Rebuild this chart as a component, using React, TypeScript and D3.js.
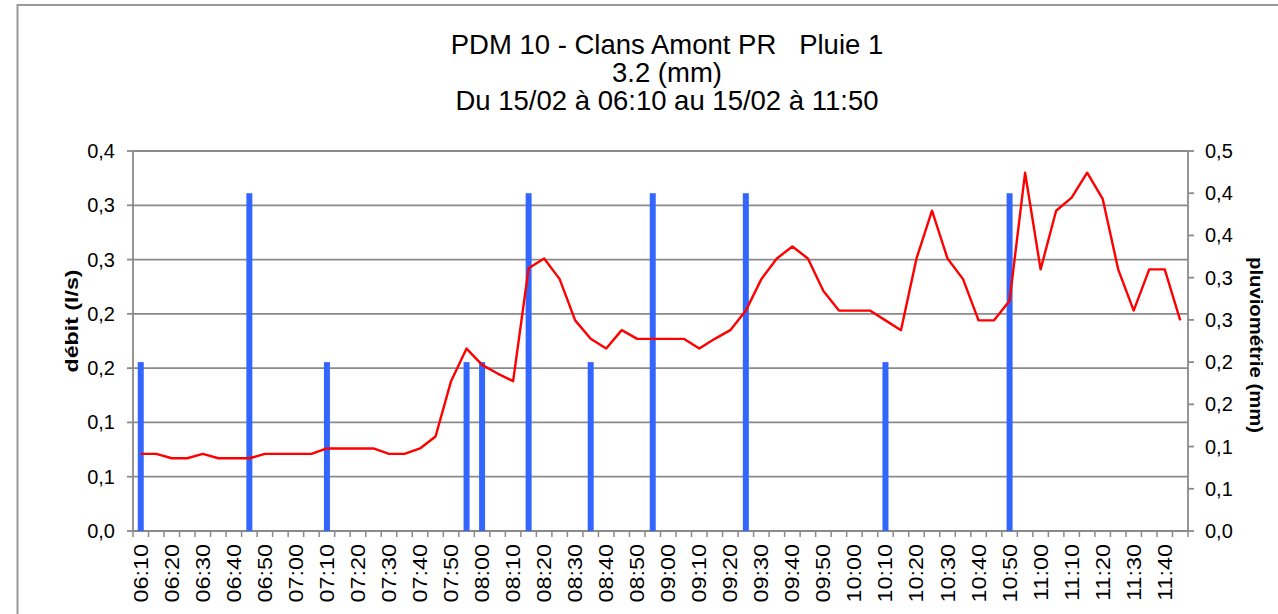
import React from "react";
import * as d3 from "d3";

const categories = [
  "06:10","06:15","06:20","06:25","06:30","06:35","06:40","06:45","06:50","06:55",
  "07:00","07:05","07:10","07:15","07:20","07:25","07:30","07:35","07:40","07:45",
  "07:50","07:55","08:00","08:05","08:10","08:15","08:20","08:25","08:30","08:35",
  "08:40","08:45","08:50","08:55","09:00","09:05","09:10","09:15","09:20","09:25",
  "09:30","09:35","09:40","09:45","09:50","09:55","10:00","10:05","10:10","10:15",
  "10:20","10:25","10:30","10:35","10:40","10:45","10:50","10:55","11:00","11:05",
  "11:10","11:15","11:20","11:25","11:30","11:35","11:40","11:45",
];

const debit = [
  0.071,0.071,0.067,0.067,0.071,0.067,0.067,0.067,0.071,0.071,
  0.071,0.071,0.076,0.076,0.076,0.076,0.071,0.071,0.076,0.087,
  0.138,0.168,0.153,0.145,0.138,0.242,0.251,0.232,0.194,0.177,
  0.168,0.185,0.177,0.177,0.177,0.177,0.168,0.177,0.185,0.203,
  0.232,0.251,0.262,0.251,0.221,0.203,0.203,0.203,0.194,0.185,
  0.251,0.295,0.251,0.232,0.194,0.194,0.212,0.330,0.241,0.295,
  0.307,0.330,0.306,0.241,0.203,0.241,0.241,0.194,
];

const pluie = [
  0.2,0,0,0,0,0,0,0.4,0,0,
  0,0,0.2,0,0,0,0,0,0,0,
  0,0.2,0.2,0,0,0.4,0,0,0,0.2,
  0,0,0,0.4,0,0,0,0,0,0.4,
  0,0,0,0,0,0,0,0,0.2,0,
  0,0,0,0,0,0,0.4,0,0,0,
  0,0,0,0,0,0,0,0,
];

const leftTicks = [0, 0.05, 0.1, 0.15, 0.2, 0.25, 0.3, 0.35];
const leftTickLabels = ["0,0","0,1","0,1","0,2","0,2","0,3","0,3","0,4"];
const rightTicks = [0, 0.05, 0.1, 0.15, 0.2, 0.25, 0.3, 0.35, 0.4, 0.45];
const rightTickLabels = ["0,0","0,1","0,1","0,2","0,2","0,3","0,3","0,4","0,4","0,5"];

const titleLines = ["PDM 10 - Clans Amont PR   Pluie 1", "3.2 (mm)", "Du 15/02 à 06:10 au 15/02 à 11:50"];
const leftAxisTitle = "débit (l/s)";
const rightAxisTitle = "pluviométrie (mm)";

const W = 1278, H = 614;
const L = 133, R = 1188, T = 151, B = 531;
const FONT = "'Liberation Sans', Arial, sans-serif";
const GRID = "#8a8a8a";

export default function App() {
  const x = d3.scaleBand<string>().domain(categories).range([L, R]).padding(0);
  const bw = x.bandwidth();
  const cx = (c: string) => (x(c) as number) + bw / 2;
  const yL = d3.scaleLinear().domain([0, 0.35]).range([B, T]);
  const yR = d3.scaleLinear().domain([0, 0.45]).range([B, T]);

  const line = d3.line<number>()
    .x((_, i) => cx(categories[i]))
    .y((d) => yL(d));

  const barW = 6;

  return (
    <svg width={W} height={H} style={{ position: "absolute", left: 0, top: 0, background: "#fff" }} fontFamily={FONT}>
      <rect x={0} y={0} width={W} height={H} fill="#fff" />
      {/* chart border */}
      <path d={`M17.5,${H} V5 H${W}`} fill="none" stroke="#999" strokeWidth={2} />

      {/* title */}
      {titleLines.map((t, i) => (
        <text key={i} x={667} y={54 + i * 28} textAnchor="middle" fontSize={27.5} fill="#000" style={{ whiteSpace: "pre" }}>
          {t}
        </text>
      ))}

      {/* gridlines */}
      {leftTicks.map((t) => (
        <line key={"g" + t} x1={L} x2={R} y1={yL(t)} y2={yL(t)} stroke={GRID} strokeWidth={1.8} />
      ))}

      {/* left axis */}
      <line x1={L} x2={L} y1={T} y2={B} stroke={GRID} strokeWidth={1.8} />
      {leftTicks.map((t, i) => (
        <g key={"lt" + t}>
          <line x1={L - 6} x2={L} y1={yL(t)} y2={yL(t)} stroke={GRID} strokeWidth={1.8} />
          <text x={115} y={yL(t)} dy="0.35em" textAnchor="end" fontSize={20} fill="#000">
            {leftTickLabels[i]}
          </text>
        </g>
      ))}

      {/* right axis */}
      <line x1={R} x2={R} y1={T} y2={B} stroke={GRID} strokeWidth={1.8} />
      {rightTicks.map((t, i) => (
        <g key={"rt" + t}>
          <line x1={R} x2={R + 6} y1={yR(t)} y2={yR(t)} stroke={GRID} strokeWidth={1.8} />
          <text x={1205} y={yR(t)} dy="0.35em" textAnchor="start" fontSize={20} fill="#000">
            {rightTickLabels[i]}
          </text>
        </g>
      ))}

      {/* x axis */}
      <line x1={L} x2={R} y1={B} y2={B} stroke={GRID} strokeWidth={1.8} />
      {categories.map((c) => (
        <line key={"xt" + c} x1={x(c) as number} x2={x(c) as number} y1={B} y2={B + 6} stroke={GRID} strokeWidth={1.5} />
      ))}
      <line x1={R} x2={R} y1={B} y2={B + 6} stroke={GRID} strokeWidth={1.5} />
      {categories.map((c, i) =>
        i % 2 === 0 ? (
          <text
            key={"xl" + c}
            transform={`translate(${cx(c)},${544}) rotate(-90) scale(1.17,1)`}
            textAnchor="end"
            dy="0.35em"
            fontSize={20}
            fill="#000"
          >
            {c}
          </text>
        ) : null
      )}

      {/* bars */}
      {pluie.map((v, i) =>
        v > 0 ? (
          <rect key={"b" + i} x={cx(categories[i]) - barW / 2} y={yR(v)} width={barW} height={B - yR(v)} fill="#3366ff" />
        ) : null
      )}

      {/* line */}
      <path d={line(debit) || ""} fill="none" stroke="#ff0000" strokeWidth={2.4} strokeLinejoin="round" />

      {/* axis titles */}
      <text transform={`translate(71,321) rotate(-90) scale(1.22,1)`} textAnchor="middle" dy="0.35em" fontSize={19} fontWeight="bold" fill="#000">
        {leftAxisTitle}
      </text>
      <text transform={`translate(1257,345) rotate(90) scale(1.07,1)`} textAnchor="middle" dy="0.35em" fontSize={19} fontWeight="bold" fill="#000">
        {rightAxisTitle}
      </text>
    </svg>
  );
}
